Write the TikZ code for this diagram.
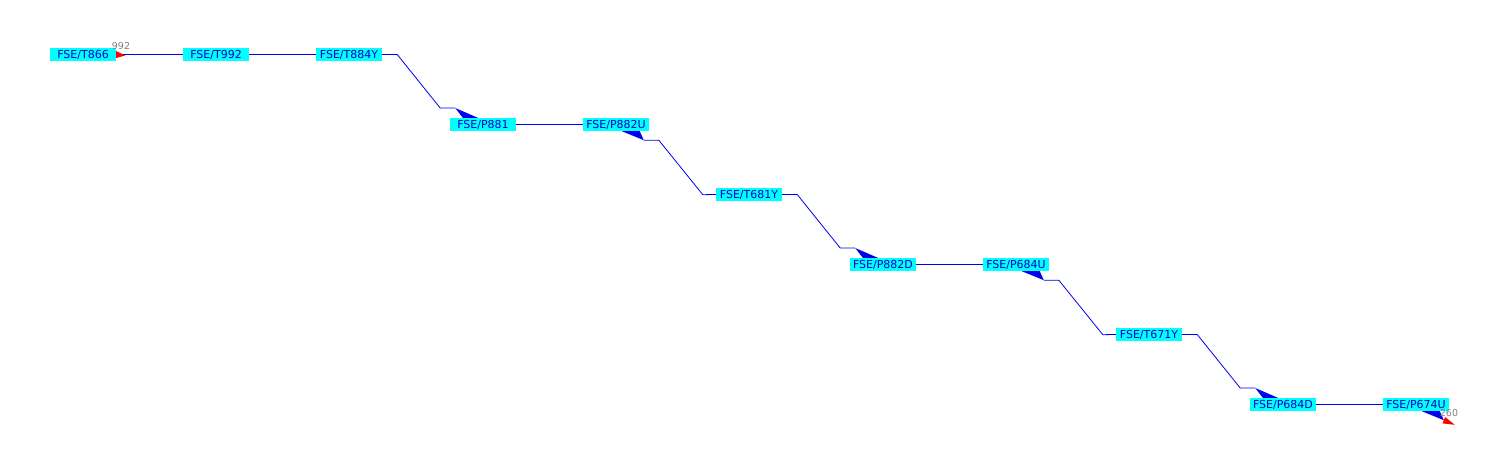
\documentclass[tikz,border=0pt]{standalone}
\usepackage{fontspec}
\setmainfont{DejaVu Sans}
\definecolor{tagfill}{HTML}{00FFFF}
\definecolor{tagtext}{HTML}{0000C8}
\definecolor{linkblue}{HTML}{0000F0}
\definecolor{markred}{HTML}{FF0000}
\tikzset{
  tag/.style={fill=tagfill, text=tagtext, inner sep=0pt, minimum width=66pt,
    minimum height=13pt, font=\fontsize{11}{12}\selectfont},
  link/.style={draw=linkblue, line width=0.8pt},
  wedge/.style={fill=linkblue},
  endmark/.style={fill=markred},
  count/.style={text=gray, inner sep=0pt, font=\fontsize{9.5}{10}\selectfont},
}

\begin{document}
\begin{tikzpicture}[x=1pt,y=-1pt]
\useasboundingbox (0,0) rectangle (1500,460);

% Tags
\foreach \name/\x/\y/\txt in {t866/83/54.5/T866, t992/216/54.5/T992,
    t884y/349/54.5/T884Y, p881/483/124.5/P881, p882u/616/124.5/P882U,
    t681y/749/194.5/T681Y, p882d/883/264.5/P882D, p684u/1016/264.5/P684U,
    t671y/1149/334.5/T671Y, p684d/1283/404.5/P684D, p674u/1416/404.5/P674U} {
    \node[tag] (\name) at (\x,\y) {FSE/\txt};
}

% Straight links
\foreach \a/\b in {t866/t992, t992/t884y, p881/p882u, p882d/p684u, p684d/p674u} {
    \draw[link] (\a) -- (\b);
}

% Steps down into the top of a tag
\foreach \a/\b in {t884y/p881, t681y/p882d, t671y/p684d} {
    \draw[link] (\a.east) -- ++(15,0) -- ++(43,53.5) -- ++(15,0) coordinate (w);
    \fill[wedge] (w) -- ([xshift=13pt]\b.north west) -- ([xshift=28pt]\b.north west) -- cycle;
}

% Steps down from the bottom of a tag
\foreach \a/\b in {p882u/t681y, p684u/t671y} {
    \fill[wedge] ([xshift=39pt]\a.south west) -- ([xshift=57pt]\a.south west)
        -- ([xshift=61pt,yshift=-9pt]\a.south west) -- cycle;
    \draw[link] ([xshift=61pt,yshift=-9pt]\a.south west) -- ++(15,0) -- ++(44,54.5) -- (\b.west);
}

% Start and end marks
\fill[endmark] (t866.east) ++(0,-3.5) -- ++(0,7) -- ++(9,-2.5) -- cycle;
\node[count] (n992) at (121,46) {992};

\fill[wedge] ([xshift=39pt]p674u.south west) -- ([xshift=57pt]p674u.south west)
    -- ([xshift=61pt,yshift=-9pt]p674u.south west) coordinate (endtip) -- cycle;
\fill[endmark] (endtip) ++(1.3,-3.2) -- ++(-2.6,6.4) -- ++(12.3,1.4) -- cycle;
\node[count] (n260) at (1449,413) {260};
\end{tikzpicture}
\end{document}
